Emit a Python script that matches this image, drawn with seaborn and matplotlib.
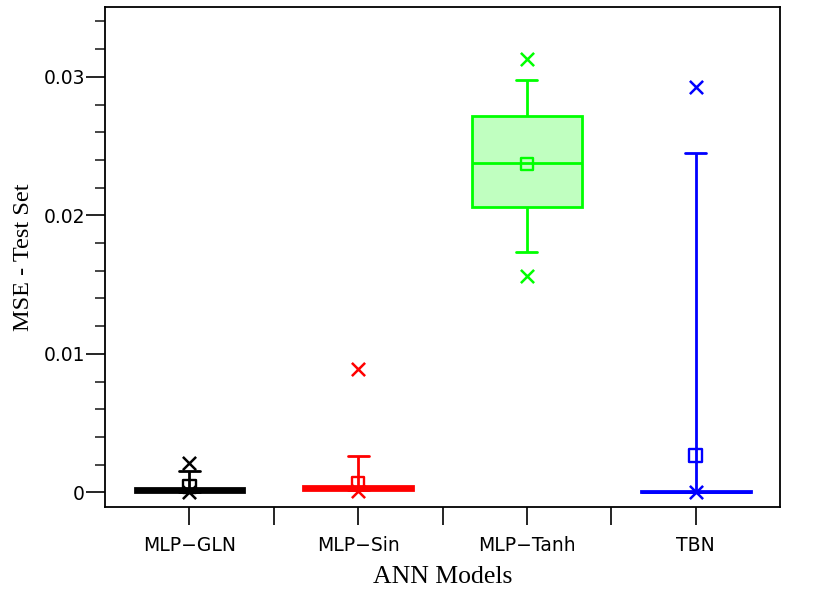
import numpy as np
import pandas as pd
import matplotlib
matplotlib.use("Agg")
import matplotlib.pyplot as plt
from matplotlib.ticker import MultipleLocator, FixedLocator
import seaborn as sns

# Box statistics
models = ["MLP\u2212GLN", "MLP\u2212Sin", "MLP\u2212Tanh", "TBN"]
whisker_low = [0.0, 0.00018, 0.01734, 0.00003]
q1 = [0.0, 0.00018, 0.0206, 0.00003]
median = [0.00014, 0.00030, 0.0238, 0.00005]
q3 = [0.0003, 0.00045, 0.0272, 0.00007]
whisker_high = [0.00158, 0.0026, 0.02976, 0.0245]
means = [0.00043, 0.00065, 0.0237, 0.00268]
mins = [0.0, 0.0001, 0.01563, 0.0]
maxs = [0.0021, 0.0089, 0.03127, 0.02928]

edge_colors = ["black", "#ff0000", "#00ff00", "#0000ff"]
face_colors = ["black", "#ff0000", "#c0ffc0", "#0000ff"]

sns.set_style("ticks")
plt.rcParams["font.family"] = ["DejaVu Sans"]
plt.rcParams["text.color"] = "black"
plt.rcParams["axes.labelcolor"] = "black"

fig = plt.figure(figsize=(8.3, 6.08), dpi=100)
ax = fig.add_axes([0.1265, 0.166, 0.8133, 0.8225])

mean_marks = []
for i, m in enumerate(models):
    sub = pd.DataFrame({
        "model": [m] * 5,
        "mse": [whisker_low[i], q1[i], median[i], q3[i], whisker_high[i]],
    })
    sns.boxplot(data=sub, x="model", y="mse", order=models,
                color=face_colors[i], linecolor=edge_colors[i],
                linewidth=2.0, width=0.65, whis=(0, 100),
                showfliers=False, saturation=1, ax=ax)
    # shorter caps like the original
    try:
        for cap in ax.containers[-1].caps:
            c = np.mean(cap.get_xdata())
            cap.set_xdata([c - 0.062, c + 0.062])
    except Exception:
        pass

    # min / max markers
    sns.stripplot(x=[m, m], y=[mins[i], maxs[i]], order=models,
                  color=edge_colors[i], marker="x", size=9.5, linewidth=1.8,
                  jitter=False, zorder=4, ax=ax)
    # mean markers (open squares)
    n_before = len(ax.collections)
    sns.stripplot(x=[m], y=[means[i]], order=models,
                  color=edge_colors[i], marker="s", size=9, linewidth=1.7,
                  edgecolor=edge_colors[i], jitter=False, zorder=5, ax=ax)
    for coll in ax.collections[n_before:]:
        if len(coll.get_offsets()) > 0:
            mean_marks.append((coll, edge_colors[i]))

for coll, col in mean_marks:
    coll.set_facecolor("none")
    coll.set_edgecolor(col)
    coll.set_linewidth(1.7)

ax.set_xlim(-0.5, 3.5)
ax.set_ylim(-0.00106, 0.03504)
ax.set_yticks([0, 0.01, 0.02, 0.03])
ax.set_yticklabels(["0", "0.01", "0.02", "0.03"])
ax.yaxis.set_minor_locator(MultipleLocator(0.002))
ax.set_xticks(range(len(models)))
ax.set_xticklabels(models)
ax.xaxis.set_minor_locator(FixedLocator([0.5, 1.5, 2.5]))

ax.tick_params(axis="x", which="both", length=13, width=1.2, direction="out",
               pad=7.5, labelsize=13.5, colors="black")
ax.tick_params(axis="y", which="major", length=14, width=1.2, direction="out",
               pad=0.5, labelsize=13.5, colors="black")
ax.tick_params(axis="y", which="minor", length=7, width=1.2, direction="out")

for s in ax.spines.values():
    s.set_visible(True)
    s.set_linewidth(1.3)
    s.set_color("black")

ax.set_xlabel("ANN Models", fontfamily="Liberation Serif", fontsize=18.5, labelpad=8)
ax.set_ylabel("MSE - Test Set", fontfamily="Liberation Serif", fontsize=17.5, labelpad=7)

fig.savefig("out.png", dpi=100)
